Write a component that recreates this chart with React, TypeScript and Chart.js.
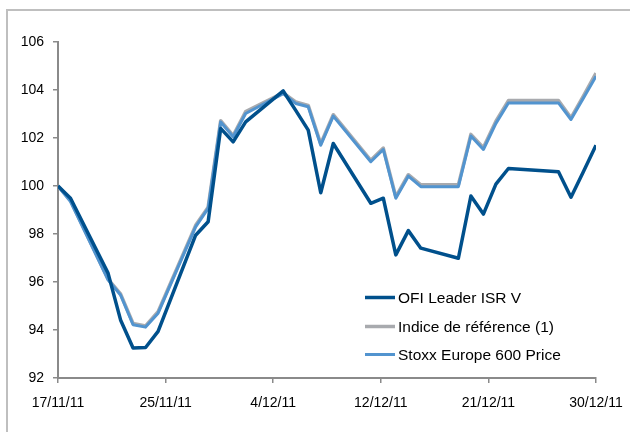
import React, { useEffect, useRef } from 'react';
import { Chart, registerables } from 'chart.js';

Chart.register(...registerables);

// Calendar-day offset from 17/11/11 of each trading day shown
const dayIndex = [0, 1, 4, 5, 6, 7, 8, 11, 12, 13, 14, 15, 18, 19, 20, 21, 22, 25, 26, 27, 28, 29, 32, 33, 34, 35, 36, 40, 41, 42, 43];

const ofiLeader = [100.0, 99.49, 96.37, 94.42, 93.25, 93.27, 93.94, 97.95, 98.51, 102.4, 101.84, 102.67, 103.96, 103.15, 102.33, 99.72, 101.77, 99.28, 99.49, 97.13, 98.14, 97.41, 96.99, 99.58, 98.83, 100.08, 100.73, 100.59, 99.53, 100.6, 101.7];

const indiceReference = [100.0, 99.4, 96.12, 95.5, 94.27, 94.17, 94.76, 98.36, 99.12, 102.72, 102.1, 103.1, 103.88, 103.5, 103.36, 101.76, 102.97, 101.07, 101.58, 99.55, 100.47, 100.05, 100.05, 102.15, 101.6, 102.7, 103.56, 103.56, 102.84, 103.76, 104.7];

const stoxxEurope600 = [100.0, 99.35, 96.09, 95.46, 94.22, 94.12, 94.7, 98.3, 99.07, 102.67, 102.05, 103.02, 103.85, 103.44, 103.3, 101.7, 102.91, 101.01, 101.52, 99.49, 100.41, 99.97, 99.97, 102.08, 101.52, 102.61, 103.46, 103.46, 102.77, 103.67, 104.57];

const xTickPositions = [0, 8.6, 17.2, 25.8, 34.4, 43];
const xTickLabels = ['17/11/11', '25/11/11', '4/12/11', '12/12/11', '21/12/11', '30/12/11'];
const yTickValues = [92, 94, 96, 98, 100, 102, 104, 106];

const seriesNames = ['OFI Leader ISR V', 'Indice de référence (1)', 'Stoxx Europe 600 Price'];
const seriesColors = ['#00508C', '#A8AAAE', '#5294CF'];
const seriesWidths = [3.5, 3.5, 3];

const FONT = '"Liberation Sans", Arial, sans-serif';

const framePlugin = {
  id: 'frame',
  beforeDraw(chart: any) {
    const c = chart.ctx;
    c.save();
    c.fillStyle = '#ffffff';
    c.fillRect(0, 0, chart.width, chart.height);
    c.strokeStyle = '#BFBFBF';
    c.lineWidth = 2;
    c.beginPath();
    c.moveTo(7, chart.height);
    c.lineTo(7, 10);
    c.lineTo(chart.width, 10);
    c.stroke();
    c.restore();
  },
};

const legendPlugin = {
  id: 'insideLegend',
  afterDraw(chart: any) {
    const c = chart.ctx;
    const rows = [297.5, 326.5, 354.5];
    c.save();
    c.font = `15.5px ${FONT}`;
    c.textBaseline = 'middle';
    c.textAlign = 'left';
    seriesNames.forEach((name, i) => {
      c.strokeStyle = seriesColors[i];
      c.lineWidth = seriesWidths[i];
      c.beginPath();
      c.moveTo(365, rows[i]);
      c.lineTo(395, rows[i]);
      c.stroke();
      c.fillStyle = '#000000';
      c.fillText(name, 398, rows[i] + 1);
    });
    c.restore();
  },
};

export default function App() {
  const ref = useRef<HTMLCanvasElement>(null);

  useEffect(() => {
    const canvas = ref.current;
    if (!canvas) return;
    const toPoints = (vals: number[]) => dayIndex.map((d, i) => ({ x: d, y: vals[i] }));
    const seriesValues = [ofiLeader, indiceReference, stoxxEurope600];
    const orders = [0, 2, 1];
    const chart = new Chart(canvas, {
      type: 'line',
      data: {
        datasets: seriesNames.map((name, i) => ({
          label: name,
          data: toPoints(seriesValues[i]),
          borderColor: seriesColors[i],
          backgroundColor: seriesColors[i],
          borderWidth: seriesWidths[i],
          pointRadius: 0,
          tension: 0,
          borderJoinStyle: 'round',
          order: orders[i],
          fill: false,
        })),
      },
      options: {
        responsive: false,
        animation: false,
        devicePixelRatio: 1,
        layout: { padding: { top: 42, right: 34, left: 0, bottom: 0 } },
        plugins: {
          legend: { display: false },
          tooltip: { enabled: false },
        },
        scales: {
          x: {
            type: 'linear',
            min: 0,
            max: 43,
            afterBuildTicks: (s: any) => {
              s.ticks = xTickPositions.map((v) => ({ value: v }));
            },
            afterFit: (s: any) => {
              s.height = 54;
              s.paddingLeft = 0;
              s.paddingRight = 0;
            },
            grid: {
              drawOnChartArea: false,
              drawTicks: true,
              tickLength: 5,
              color: '#8A8A8A',
              lineWidth: 1.5,
            },
            border: { display: true, color: '#8A8A8A', width: 2 },
            ticks: {
              callback: (_v: any, i: number) => xTickLabels[i],
              font: { family: FONT, size: 14 },
              color: '#000000',
              padding: 12,
              maxRotation: 0,
              autoSkip: false,
            },
          },
          y: {
            min: 92,
            max: 106,
            afterBuildTicks: (s: any) => {
              s.ticks = yTickValues.map((v) => ({ value: v }));
            },
            afterFit: (s: any) => {
              s.width = 58;
              s.paddingTop = 0;
              s.paddingBottom = 0;
            },
            grid: {
              drawOnChartArea: false,
              drawTicks: true,
              tickLength: 5,
              color: '#8A8A8A',
              lineWidth: 1.5,
            },
            border: { display: true, color: '#8A8A8A', width: 2 },
            ticks: {
              font: { family: FONT, size: 14 },
              color: '#000000',
              padding: 9,
            },
          },
        },
      },
      plugins: [framePlugin, legendPlugin],
    } as any);
    return () => chart.destroy();
  }, []);

  return (
    <div style={{ position: 'absolute', left: 0, top: 0, width: 630, height: 432 }}>
      <canvas ref={ref} width={630} height={432} style={{ display: 'block' }} />
    </div>
  );
}
